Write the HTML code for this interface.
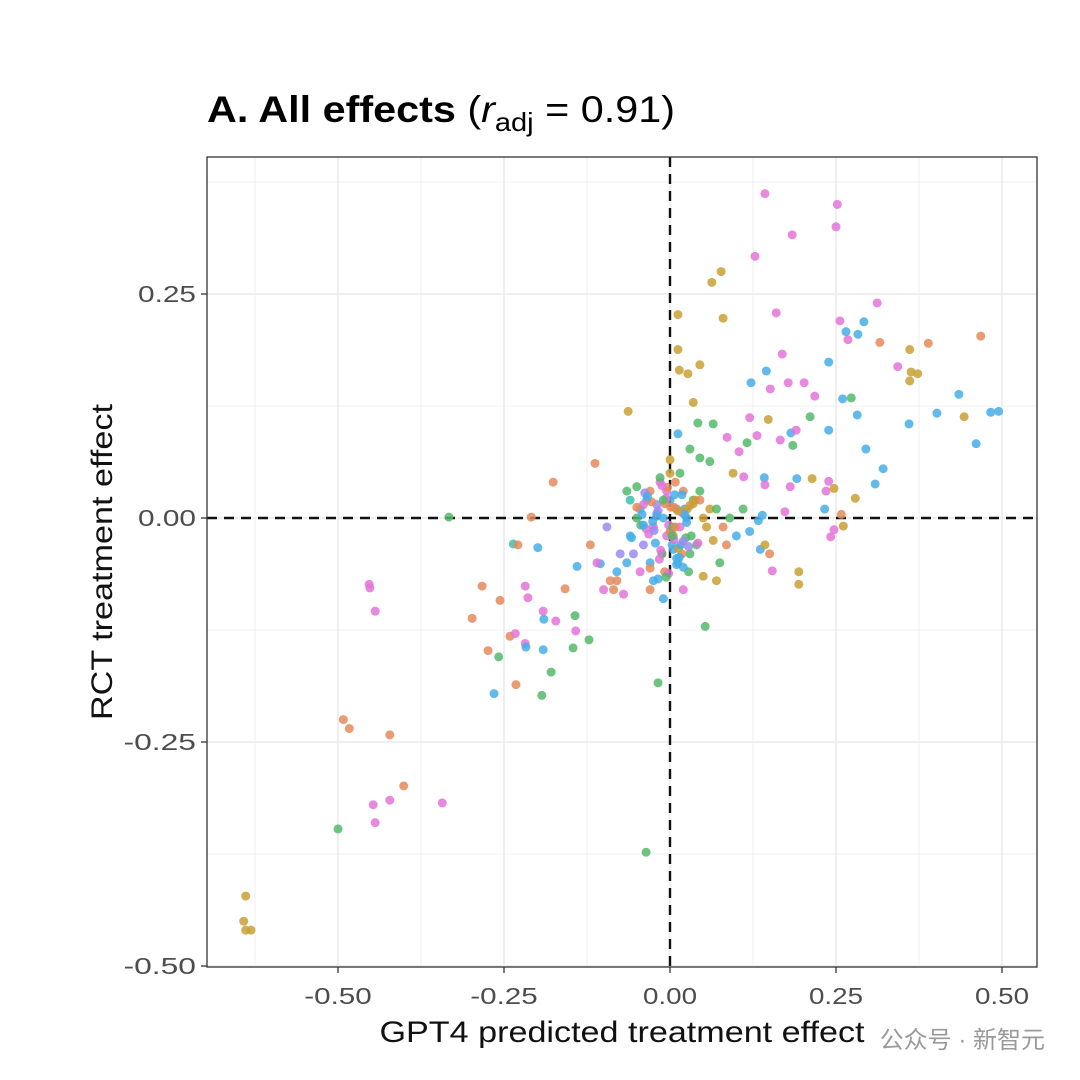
<!DOCTYPE html>
<html><head><meta charset="utf-8">
<style>
html,body{margin:0;padding:0;background:#fff;}
svg{display:block;font-family:"Liberation Sans","Noto Sans CJK SC",sans-serif;}
</style></head>
<body>
<svg id="chart" width="1080" height="1080" viewBox="0 0 1080 1080">
<text x="207" y="122" font-size="37" fill="#000" textLength="468" lengthAdjust="spacingAndGlyphs"><tspan font-weight="bold">A. All effects</tspan> (<tspan font-style="italic">r</tspan><tspan font-size="26" dy="9">adj</tspan><tspan dy="-9"> = 0.91)</tspan></text>
<g id="grid"></g>
<g id="pts"></g>
<g id="axes"></g>
<text x="112" y="562" font-size="30" fill="#111" text-anchor="middle" textLength="316" lengthAdjust="spacingAndGlyphs" transform="rotate(-90 112 562)">RCT treatment effect</text>
<text x="622" y="1042" font-size="30" fill="#111" text-anchor="middle" textLength="485" lengthAdjust="spacingAndGlyphs">GPT4 predicted treatment effect</text>
<text x="1045" y="1048" font-size="24" fill="#9a9a9a" text-anchor="end">公众号 · 新智元</text>
</svg>
<script>
const xTicks=[-0.5,-0.25,0,0.25,0.5];
const yTicks=[-0.5,-0.25,0,0.25];
const xTickLabels=["-0.50","-0.25","0.00","0.25","0.50"];
const yTickLabels=["-0.50","-0.25","0.00","0.25"];
const palette=["#E58A5B","#C9A032","#54B96A","#47AEE8","#E374D8","#9A8CF0","#3DBFAF"];
const xs=[0.143,0.252,0.250,0.184,0.128,0.077,0.063,0.312,0.468,0.012,0.080,0.160,0.256,0.265,0.283,0.292,0.268,0.316,0.389,0.361,0.239,0.169,0.343,0.363,0.373,0.361,0.122,0.178,0.202,0.145,0.151,0.012,0.014,0.027,0.045,0.218,0.260,0.273,0.435,0.035,0.282,0.402,0.443,0.483,0.495,0.120,0.148,0.211,0.360,0.239,-0.063,0.042,0.065,0.012,0.086,0.116,0.131,0.166,0.182,0.190,0.185,0.461,0.295,0.104,0.030,0.045,0.060,-0.113,0.321,0.214,0.239,0.191,0.142,0.111,0.143,0.181,0.235,0.247,0.309,0.279,-0.176,0.233,0.242,0.247,0.261,0.258,0.173,0.139,0.133,0.136,0.143,0.194,0.194,0.154,-0.333,-0.209,-0.199,-0.236,-0.229,-0.140,-0.105,-0.218,-0.283,-0.256,-0.214,-0.158,-0.191,-0.298,-0.172,-0.143,-0.190,-0.241,-0.233,-0.122,-0.142,-0.218,-0.217,-0.146,-0.274,-0.191,-0.258,-0.179,-0.232,-0.265,-0.193,-0.018,0.053,-0.453,-0.452,-0.444,-0.492,-0.483,-0.422,-0.401,-0.422,-0.447,-0.444,-0.343,-0.500,-0.036,-0.639,-0.642,-0.639,-0.631,
-0.120,-0.085,-0.070,-0.080,0.050,0.070,0.075,0.085,0.030,-0.095,-0.060,-0.045,-0.030,-0.015,0.000,0.010,0.020,0.035,0.050,-0.050,-0.040,-0.025,-0.010,0.005,0.015,0.025,0.040,-0.035,-0.020,-0.005,0.008,0.022,0.038,-0.055,-0.030,-0.012,0.003,0.018,0.032,-0.045,-0.025,-0.008,0.012,0.028,-0.015,0.000,0.015,-0.030,-0.010,0.020,0.060,0.090,0.100,0.110,-0.075,-0.065,-0.090,-0.100,0.045,0.055,0.070,-0.005,0.005,-0.020,0.025,0.000,-0.040,0.010,0.065,0.080,-0.110,-0.080,-0.060,-0.050,0.000,0.020,-0.002,0.006,0.045,0.095,0.120,0.150,
-0.042,-0.036,-0.028,-0.022,-0.018,-0.012,-0.006,0.002,0.007,0.013,0.018,0.024,0.030,-0.038,-0.026,-0.016,-0.004,0.004,0.016,0.026,-0.032,-0.020,-0.008,0.010,0.020,-0.044,-0.034,-0.014,0.001,0.014,-0.024,-0.010,0.006,0.022,-0.030,-0.002,0.012,-0.018,0.003,-0.050,-0.058,-0.065,-0.040,0.035,0.042,0.008,-0.012,0.018,-0.006,0.028];
const ys=[0.362,0.350,0.325,0.316,0.292,0.275,0.263,0.240,0.203,0.227,0.223,0.229,0.220,0.208,0.205,0.219,0.199,0.196,0.195,0.188,0.174,0.183,0.169,0.163,0.161,0.153,0.151,0.151,0.151,0.164,0.144,0.188,0.165,0.161,0.171,0.136,0.133,0.134,0.138,0.129,0.115,0.117,0.113,0.118,0.119,0.112,0.110,0.113,0.105,0.098,0.119,0.106,0.105,0.094,0.090,0.084,0.092,0.087,0.095,0.098,0.081,0.083,0.077,0.074,0.077,0.067,0.063,0.061,0.055,0.044,0.041,0.044,0.045,0.046,0.037,0.035,0.030,0.033,0.038,0.022,0.040,0.010,-0.021,-0.013,-0.009,0.004,0.007,0.003,-0.003,-0.035,-0.030,-0.060,-0.074,-0.059,0.001,0.001,-0.033,-0.029,-0.030,-0.054,-0.051,-0.076,-0.076,-0.092,-0.089,-0.079,-0.104,-0.112,-0.115,-0.109,-0.113,-0.132,-0.129,-0.136,-0.126,-0.140,-0.144,-0.145,-0.148,-0.147,-0.155,-0.172,-0.186,-0.196,-0.198,-0.184,-0.121,-0.074,-0.078,-0.104,-0.225,-0.235,-0.242,-0.299,-0.315,-0.320,-0.340,-0.318,-0.347,-0.373,-0.422,-0.450,-0.460,-0.460,
-0.030,-0.080,-0.085,-0.070,-0.065,-0.070,-0.050,-0.030,-0.040,-0.010,-0.020,0.010,0.030,0.040,0.020,0.010,0.030,0.020,0.000,0.000,-0.030,-0.010,0.000,-0.020,-0.010,0.000,-0.030,0.020,0.015,0.030,0.040,0.010,0.020,-0.040,-0.050,-0.040,-0.030,-0.040,-0.020,-0.060,-0.070,-0.060,-0.050,-0.060,0.045,0.050,0.050,-0.080,-0.090,-0.080,0.010,0.000,-0.020,0.010,-0.040,-0.050,-0.070,-0.080,0.020,-0.010,0.010,-0.020,-0.035,0.005,-0.005,-0.015,0.015,-0.045,-0.025,-0.010,-0.050,-0.060,0.020,0.035,0.065,-0.055,-0.008,0.012,0.030,0.050,-0.015,-0.040,
0.004,-0.012,0.018,-0.028,0.008,-0.040,0.022,-0.016,0.026,-0.034,0.006,-0.022,0.014,0.028,-0.004,-0.046,0.034,-0.010,-0.030,0.010,-0.018,0.002,0.016,-0.052,-0.026,-0.008,0.024,-0.036,0.012,-0.044,-0.014,0.020,-0.024,0.004,-0.056,-0.062,0.008,-0.068,-0.020,0.012,-0.022,0.030,-0.008,0.016,-0.028,-0.010,0.036,0.026,-0.066,-0.032];
const groups=[4,4,4,4,4,1,1,4,0,1,1,4,4,3,3,3,4,0,0,1,3,4,4,1,1,1,3,4,4,3,4,1,1,1,1,4,3,2,3,1,3,3,1,3,3,4,1,2,3,3,1,2,2,3,4,2,4,4,3,4,2,3,3,4,2,2,2,0,3,1,4,3,3,4,4,4,4,1,3,1,0,3,4,4,1,0,4,3,3,3,1,1,1,4,2,0,3,6,0,3,3,4,0,0,4,0,4,0,4,2,3,0,4,2,4,4,3,2,0,3,2,2,0,3,2,2,2,4,4,4,0,0,0,0,4,4,4,4,2,2,1,1,1,1,
0,0,4,0,1,1,2,0,2,5,3,3,0,4,3,5,0,2,1,2,5,4,3,0,4,3,2,3,5,4,0,3,1,5,3,4,3,0,2,4,3,0,3,2,2,1,2,0,3,4,1,2,3,2,5,3,0,4,0,1,2,4,3,5,3,0,4,3,1,0,4,3,6,2,1,3,4,0,2,1,3,0,
3,4,0,3,5,2,4,0,3,1,4,2,0,5,3,4,0,2,3,1,4,3,0,3,5,2,3,4,0,3,5,2,4,3,0,4,1,3,2,0,3,2,3,1,4,0,4,3,2,5];
const X0=207,X1=1037,Y0=157,Y1=967;
const sx=v=>670+v*664, sy=v=>518-v*896;
const NS="http://www.w3.org/2000/svg";
function mk(t,a,p){const e=document.createElementNS(NS,t);for(const k in a)e.setAttribute(k,a[k]);p.appendChild(e);return e;}
const grid=document.getElementById('grid'),axes=document.getElementById('axes'),pts=document.getElementById('pts');
for(let v=-0.625;v<=0.55;v+=0.125){const x=sx(v);if(x<X0||x>X1)continue;
 const major=xTicks.some(t=>Math.abs(t-v)<1e-6);
 const l=mk('line',{x1:x,x2:x,y1:Y0,y2:Y1,stroke:'#ebebeb','stroke-width':major?1.6:0.8},grid);
 }
for(let v=-0.5;v<=0.4;v+=0.125){const y=sy(v);if(y<Y0||y>Y1)continue;
 const major=yTicks.some(t=>Math.abs(t-v)<1e-6);
 const l=mk('line',{x1:X0,x2:X1,y1:y,y2:y,stroke:'#ebebeb','stroke-width':major?1.6:0.8},grid);
 }
const d1=mk('line',{x1:sx(0),x2:sx(0),y1:Y0,y2:Y1,stroke:'#111','stroke-width':2.4,'stroke-dasharray':'10 7'},grid);

const d2=mk('line',{x1:X0,x2:X1,y1:sy(0),y2:sy(0),stroke:'#111','stroke-width':2.4,'stroke-dasharray':'10 7'},grid);

for(let i=0;i<xs.length;i++){
 const c=mk('circle',{cx:sx(xs[i]),cy:sy(ys[i]),r:4.5,fill:palette[groups[i]%palette.length],'fill-opacity':0.85},pts);
 }
const fr=mk('rect',{x:X0,y:Y0,width:X1-X0,height:Y1-Y0,fill:'none',stroke:'#333','stroke-width':1.3},axes);

xTicks.forEach((v,i)=>{const x=sx(v);
 const t=mk('line',{x1:x,x2:x,y1:Y1,y2:Y1+6,stroke:'#333','stroke-width':1.3},axes);
 
 const s=mk('text',{x:x,y:1004,'font-size':23,fill:'#4d4d4d','text-anchor':'middle',textLength:xTickLabels[i].length*13.5,lengthAdjust:'spacingAndGlyphs'},axes);s.textContent=xTickLabels[i];
 });
yTicks.forEach((v,i)=>{const y=sy(v);
 const t=mk('line',{x1:X0-6,x2:X0,y1:y,y2:y,stroke:'#333','stroke-width':1.3},axes);
 
 const s=mk('text',{x:196,y:y+8,'font-size':23,fill:'#4d4d4d','text-anchor':'end',textLength:yTickLabels[i].length*14.5,lengthAdjust:'spacingAndGlyphs'},axes);s.textContent=yTickLabels[i];
 });
</script>
</body></html>
